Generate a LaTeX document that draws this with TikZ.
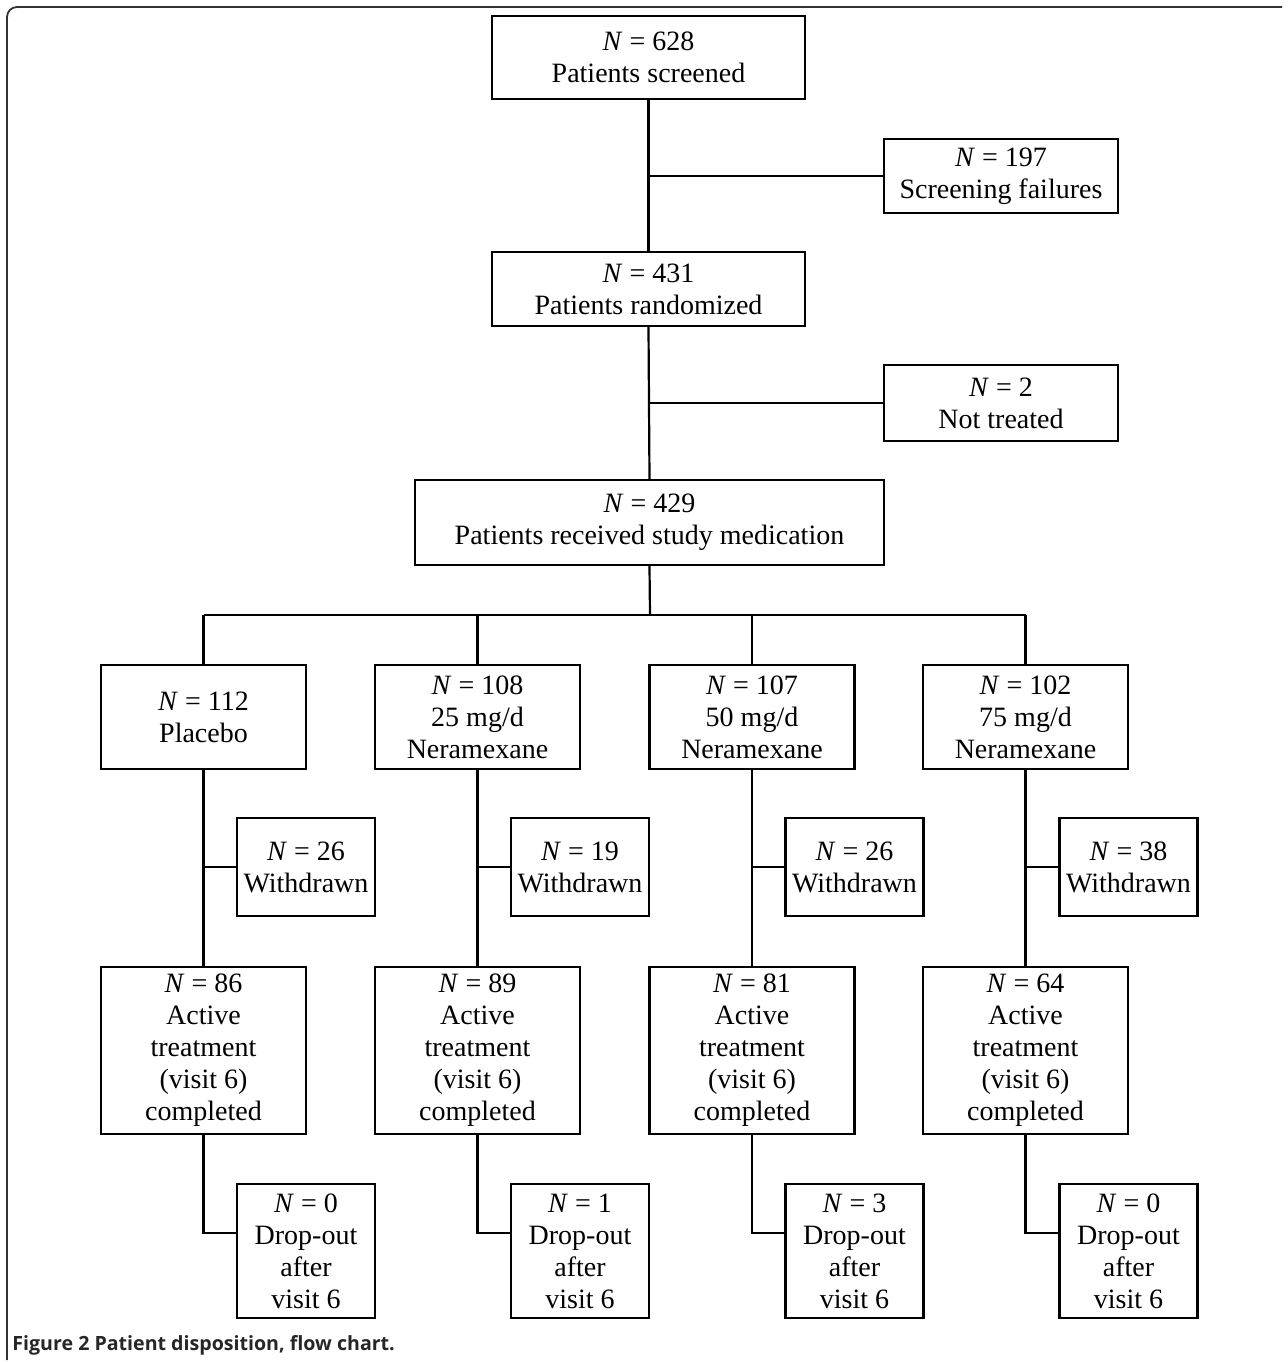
\documentclass[tikz,border=0pt]{standalone}
\usepackage{fontspec}
\setmainfont{Liberation Serif}
\newfontfamily\capfont{Open Sans}
\begin{document}
\begin{tikzpicture}[x=0.5pt,y=-0.5pt,
  box/.style={draw=black,line width=1.1pt,align=center,inner sep=0pt,
    font=\fontsize{14}{16}\selectfont},
  conn/.style={line width=1.1pt,black},
  frameline/.style={line width=0.9pt,draw=black!80}]
\useasboundingbox (0,0) rectangle (1287,1362);
\draw[frameline,rounded corners=5pt] (1282,7) -- (7,7) -- (7,1360);
% top chain
\node[box,minimum width=156.5pt,minimum height=41.5pt] (top) at (648.5,57.5) {\textit{N} = 628\\Patients screened};
\node[box,minimum width=117pt,minimum height=37pt] (fail) at (1001,176) {\textit{N} = 197\\Screening failures};
\node[box,minimum width=156.5pt,minimum height=37pt] (rand) at (648.5,289) {\textit{N} = 431\\Patients randomized};
\node[box,minimum width=117pt,minimum height=38pt] (nott) at (1001,403) {\textit{N} = 2\\Not treated};
\node[box,minimum width=234.5pt,minimum height=42.5pt] (recv) at (649.5,522.5) {\textit{N} = 429\\Patients received study medication};
\draw[conn] (top.south) -- (rand.north);
\draw[conn] (fail.west) -- (fail.west -| top.south);
\draw[conn] (rand.south) -- (recv.north);
\draw[conn] (nott.west) -- (nott.west -| rand.south);
% groups
\coordinate (bus) at (650,615);
\node[box,minimum width=102.5pt,minimum height=52pt] (g1) at (203.5,717) {\textit{N} = 112\\Placebo};
\node[box,minimum width=102.5pt,minimum height=52pt] (g2) at (477.5,717) {\textit{N} = 108\\25 mg/d\\Neramexane};
\node[box,minimum width=102.5pt,minimum height=52pt] (g3) at (752,717) {\textit{N} = 107\\50 mg/d\\Neramexane};
\node[box,minimum width=102.5pt,minimum height=52pt] (g4) at (1025.5,717) {\textit{N} = 102\\75 mg/d\\Neramexane};
\draw[conn] (recv.south) -- (bus);
\draw[conn] (g1.north |- bus) -- (g4.north |- bus);
\foreach \g in {g1,g2,g3,g4} \draw[conn] (\g.north) -- (\g.north |- bus);
% withdrawn
\node[box,minimum width=69pt,minimum height=49pt] (w1) at (306,867) {\textit{N} = 26\\Withdrawn};
\node[box,minimum width=69pt,minimum height=49pt] (w2) at (580,867) {\textit{N} = 19\\Withdrawn};
\node[box,minimum width=69pt,minimum height=49pt] (w3) at (854.5,867) {\textit{N} = 26\\Withdrawn};
\node[box,minimum width=69pt,minimum height=49pt] (w4) at (1128.5,867) {\textit{N} = 38\\Withdrawn};
% active
\node[box,minimum width=102.5pt,minimum height=83.5pt] (a1) at (203.5,1050.5) {\textit{N} = 86\\Active\\treatment\\(visit 6)\\completed};
\node[box,minimum width=102.5pt,minimum height=83.5pt] (a2) at (477.5,1050.5) {\textit{N} = 89\\Active\\treatment\\(visit 6)\\completed};
\node[box,minimum width=102.5pt,minimum height=83.5pt] (a3) at (752,1050.5) {\textit{N} = 81\\Active\\treatment\\(visit 6)\\completed};
\node[box,minimum width=102.5pt,minimum height=83.5pt] (a4) at (1025.5,1050.5) {\textit{N} = 64\\Active\\treatment\\(visit 6)\\completed};
% dropout
\node[box,minimum width=69pt,minimum height=67pt] (d1) at (306,1251) {\textit{N} = 0\\Drop-out\\after\\visit 6};
\node[box,minimum width=69pt,minimum height=67pt] (d2) at (580,1251) {\textit{N} = 1\\Drop-out\\after\\visit 6};
\node[box,minimum width=69pt,minimum height=67pt] (d3) at (854.5,1251) {\textit{N} = 3\\Drop-out\\after\\visit 6};
\node[box,minimum width=69pt,minimum height=67pt] (d4) at (1128.5,1251) {\textit{N} = 0\\Drop-out\\after\\visit 6};
\foreach \i in {1,2,3,4} {
  \draw[conn] (g\i.south) -- (a\i.north);
  \draw[conn] (w\i.west) -- (w\i.west -| g\i.south);
  \draw[conn] (a\i.south) |- ([yshift=9pt]d\i.west);
}
% caption
\node[anchor=west,inner sep=0pt,text=black!85,font=\capfont\bfseries\fontsize{9.8}{11}\selectfont] (cap) at (12,1345) {Figure 2 Patient disposition, flow chart.};
\end{tikzpicture}
\end{document}
